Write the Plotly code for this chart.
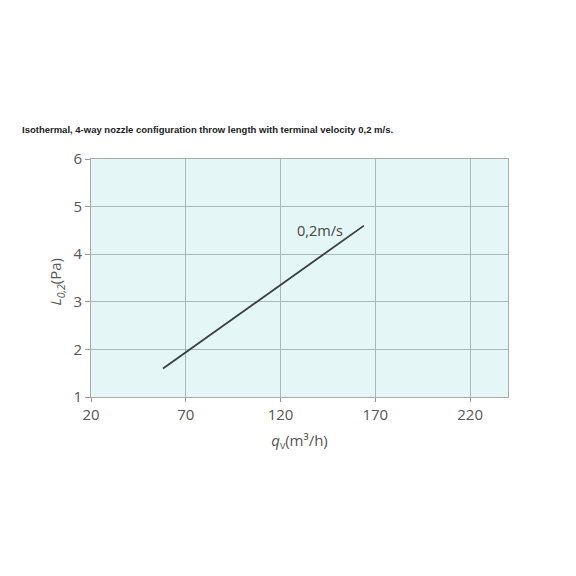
import plotly.graph_objects as go

# Data
flow_rate = [58, 70, 120, 164]          # q_v (m³/h)
throw_length = [1.6, 1.94, 3.35, 4.6]   # L_0,2
series_label = "0,2m/s"
x_ticks = [20, 70, 120, 170, 220]
y_ticks = [1, 2, 3, 4, 5, 6]
title_text = "Isothermal, 4-way nozzle configuration throw length with terminal velocity 0,2 m/s."

fig = go.Figure()
fig.add_trace(go.Scatter(
    x=flow_rate, y=throw_length, mode="lines",
    line=dict(color="#3a3f40", width=1.8),
    showlegend=False, hoverinfo="skip",
))
fig.add_annotation(
    x=141, y=4.5, xref="x", yref="y", text=series_label, showarrow=False,
    font=dict(family="Open Sans", size=14.5, color="#444"),
)
fig.add_annotation(
    x=-0.084, y=0.485, xref="paper", yref="paper", textangle=-90,
    text="<i>L</i><sub><i>0,2</i></sub>(Pa)", showarrow=False,
    xanchor="center", yanchor="middle",
    font=dict(family="Open Sans", size=15, color="#555"),
)

axis_font = dict(family="Open Sans", size=15, color="#555")
fig.update_layout(
    width=576, height=576,
    margin=dict(l=83, r=76, t=151, b=187),
    paper_bgcolor="white",
    plot_bgcolor="#e5f6f6",
    title=dict(
        text="<b>" + title_text + "</b>", x=14/576, xanchor="left", xref="container",
        y=1-122/576, yanchor="middle", yref="container",
        font=dict(family="Liberation Sans", size=9.5, color="#222"),
    ),
    xaxis=dict(
        range=[20, 240], tickvals=x_ticks, ticks="outside", ticklen=4,
        tickcolor="#999", showgrid=True, gridcolor="#a9b8b8", gridwidth=1,
        showline=True, linecolor="#aaa", mirror=True, zeroline=False,
        tickfont=axis_font,
        title=dict(text="<i>q</i><sub>v</sub>(m³/h)", font=dict(family="Open Sans", size=15, color="#555"), standoff=12),
    ),
    yaxis=dict(
        range=[1, 6], tickvals=y_ticks, ticks="outside", ticklen=5,
        tickcolor="#999", showgrid=True, gridcolor="#a9b8b8", gridwidth=1,
        showline=True, linecolor="#aaa", mirror=True, zeroline=False,
        tickfont=axis_font,
    ),
)

fig.write_html("out.html")
